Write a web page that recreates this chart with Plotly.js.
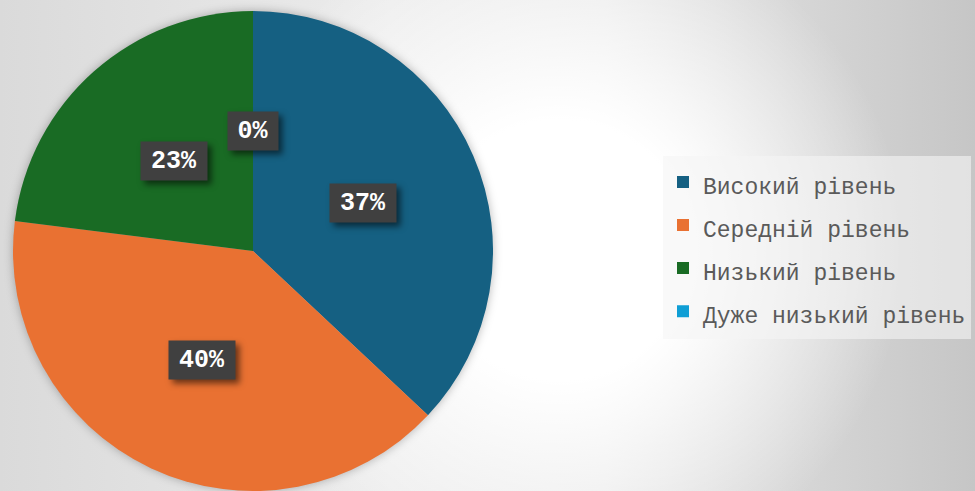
<!DOCTYPE html>
<html>
<head>
<meta charset="utf-8">
<script src="https://cdn.plot.ly/plotly-3.0.1.min.js"></script>
<style>
  html, body { margin: 0; padding: 0; }
  body {
    width: 975px; height: 491px; overflow: hidden;
    background:
      radial-gradient(circle at 560px 250px, #ffffff 0px, #ffffff 130px, rgba(255,255,255,0) 345px),
      linear-gradient(to right, #dadada 0%, #ececec 40%, #e8e8e8 62%, #c6c6c6 100%);
  }
  #chart { width: 975px; height: 491px; }
  .pielayer .trace { filter: drop-shadow(0px 0px 5px rgba(0,0,0,0.28)); }
  .annotation-text-g rect.bg { filter: drop-shadow(4px 4px 3px rgba(0,0,0,0.55)); }
</style>
</head>
<body>
<div id="chart"></div>
<script>
const categories = ["Високий рівень", "Середній рівень", "Низький рівень", "Дуже низький рівень"];
const values = [37, 40, 23, 0];
const percentLabels = ["37%", "40%", "23%", "0%"];
const colors = ["#156082", "#E97132", "#196B24", "#0F9ED5"];

const W = 975, H = 491;
const cx = 253, cy = 251, R = 240;
const domainX = [(cx - R) / W, (cx + R) / W];
const domainY = [(H - cy - R) / H, (H - cy + R) / H];

const total = values.reduce((a, b) => a + b, 0);
const annotations = [];
let cum = 0;
values.forEach((v, i) => {
  const mid = (cum + v / 2) / total * 2 * Math.PI;
  cum += v;
  const px = cx + 0.5 * R * Math.sin(mid);
  const py = (H - cy) + 0.5 * R * Math.cos(mid);
  annotations.push({
    x: px / W, y: py / H, xref: "paper", yref: "paper",
    text: "<b>" + percentLabels[i] + "</b>",
    showarrow: false,
    font: { family: "Liberation Mono, Courier New, monospace", size: 25, color: "#ffffff" },
    bgcolor: "#404040",
    width: percentLabels[i].length * 16 + 18,
    height: 38,
    borderpad: 0,
    xanchor: "center", yanchor: "middle"
  });
});

const trace = {
  type: "pie",
  labels: categories.map(c => '<span style="font-size:23px">' + c + '</span>'),
  values: values,
  sort: false,
  direction: "clockwise",
  rotation: 0,
  marker: { colors: colors, line: { width: 0 } },
  textinfo: "none",
  hoverinfo: "label+percent",
  domain: { x: domainX, y: domainY },
  showlegend: true
};

const layout = {
  width: W, height: H,
  margin: { l: 0, r: 0, t: 0, b: 0 },
  paper_bgcolor: "rgba(0,0,0,0)",
  plot_bgcolor: "rgba(0,0,0,0)",
  showlegend: true,
  legend: {
    x: 663 / W, xanchor: "left",
    y: (H - 247) / H, yanchor: "middle",
    bgcolor: "rgba(245,245,245,0.6)",
    borderwidth: 0,
    font: { family: "Liberation Mono, Courier New, monospace", size: 30.8, color: "#5a5a5a" },
    itemclick: false, itemdoubleclick: false
  },
  annotations: annotations
};

Plotly.newPlot("chart", [trace], layout, { displayModeBar: false, staticPlot: true });
</script>
</body>
</html>
